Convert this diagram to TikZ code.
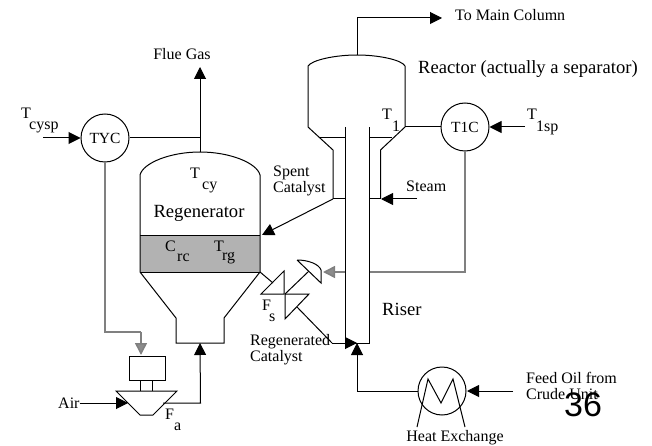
\documentclass[tikz,border=0pt]{standalone}
\usepackage{fontspec}
\setmainfont{Liberation Serif}
\newfontfamily\pagefont{Liberation Sans}
\usetikzlibrary{arrows.meta}
\tikzset{
  pipeline/.style={line width=1pt},
  flowline/.style={line width=1pt,-{Triangle[length=12pt,width=12pt]}},
  signalline/.style={line width=1.5pt,black!50},
  signalarrow/.style={signalline,-{Triangle[length=12pt,width=12pt,fill=black!45]}},
  controller/.style={draw,circle,line width=1pt,minimum size=48pt,inner sep=0pt,fill=white,font=\fontsize{15.5}{16}\selectfont},
  label/.style={inner sep=0pt,font=\fontsize{16}{16}\selectfont},
  biglabel/.style={inner sep=0pt,font=\fontsize{18.6}{18}\selectfont}
}
\begin{document}
\begin{tikzpicture}[x=1pt,y=-1pt]
\useasboundingbox (0,0) rectangle (652,446);

%coordinates
\coordinate (regentop) at (200,152);
\coordinate (regenbot) at (200,343);
\coordinate (reacttop) at (357,55);
\coordinate (reactout) at (405,127);
\coordinate (flueend) at (200,67);
\coordinate (colend) at (442,18);
\coordinate (colbend) at (357,18);
\coordinate (spentend) at (262,235);
\coordinate (spentstart) at (333,199);
\coordinate (steamend) at (381,199);
\coordinate (steamstart) at (417,199);
\coordinate (cyspstart) at (43,138);
\coordinate (onespstart) at (525,127);
\coordinate (fanin) at (128,403);
\coordinate (fanout) at (163,403);
\coordinate (fanbend) at (200.5,403);
\coordinate (valvein) at (273,283);
\coordinate (valvecross) at (285,294);
\coordinate (valveout) at (297,307);
\coordinate (regencorner) at (260,272);
\coordinate (riserkink) at (332,343);
\coordinate (riserin) at (357,343);
\coordinate (feedbend) at (357,391);
\coordinate (feedstart) at (513,391);
\coordinate (feedend) at (467,391);
\coordinate (motortip) at (141,355);
\coordinate (valvetip) at (323,272);

%controllers
\node[controller] (tyc) at (105,138) {TYC};
\node[controller] (tonec) at (465,127) {T1C};
\node[draw,circle,line width=1pt,minimum size=48pt,inner sep=0pt] (exchanger) at (442,391) {};

%signals
\draw[signalline] (tyc.south) -- (105,332) -- (141,332);
\draw[signalarrow] (141,332) -- (motortip);
\draw[signalline] (tonec.south) -- (465,272) -- (369,272);
\draw[signalarrow] (345,272) -- (valvetip);

%regenerator
\fill[black!30] (140,235) rectangle (260,272);
\draw[pipeline] (140,235) -- (260,235);
\draw[pipeline] (140,272) -- (260,272);
\draw[pipeline] (176,318) -- (140,272) -- (140,175) .. controls (143,163) and (170,152) .. (regentop)
  .. controls (230,152) and (257,163) .. (260,175) -- (regencorner) -- (224,318) -- (224,343) -- (176,343) -- cycle;

%reactor
\draw[pipeline] (333,199) -- (333,150) -- (308,127) -- (308,66) .. controls (312,60) and (335,55) .. (reacttop)
  .. controls (379,55) and (402,60) .. (405,66) -- (reactout) -- (380.5,150) -- (380.5,199);
\draw[pipeline] (320,138) -- (345,138);
\draw[pipeline] (369,138) -- (392,138);
\draw[pipeline] (333,199) -- (345,199);
\draw[pipeline] (369,199) -- (380.5,199);

%riser
\draw[pipeline] (345,127) -- (345,343) -- (369,343) -- (369,127);

%valve
\draw[pipeline] (261,294) -- (284,271) -- (284,294) -- cycle;
\draw[pipeline] (285,294) -- (309,294) -- (285,319) -- cycle;
\draw[pipeline] (valvecross) -- (309,271);
\draw[pipeline] (297,260) -- (321,283) -- (321,270) .. controls (319,264) and (308,260) .. (297,260);
\draw[pipeline] (regencorner) -- (valvein);
\draw[pipeline] (valveout) -- (riserkink);
\draw[flowline] (riserkink) -- (riserin);

%fan
\draw[pipeline] (116,391) -- (177,391) -- (153,415) -- (140,415) -- cycle;
\draw[pipeline] (129,356) rectangle (165,380);
\draw[pipeline] (140,380) -- (140,391);
\draw[pipeline] (152,380) -- (152,391);

%exchanger
\draw[pipeline] (417,427) -- (428,379) -- (441,403) -- (453,379) -- (465,427);

%flows
\draw[flowline] (regentop) -- (flueend);
\draw[pipeline] (tyc.east) -- (200,138);
\draw[flowline] (reacttop) -- (colbend) -- (colend);
\draw[pipeline] (reactout) -- (tonec.west);
\draw[flowline] (spentstart) -- (spentend);
\draw[flowline] (steamstart) -- (steamend);
\draw[flowline] (fanout) -- (fanbend) -- (regenbot);
\draw[flowline] (exchanger.west) -- (feedbend) -- (riserin);
\draw[flowline] (cyspstart) -- (tyc.west);
\draw[flowline] (onespstart) -- (tonec.east);
\draw[flowline] (feedstart) -- (feedend);

%labels
\node[label] (fluegas) at (182,54) {Flue Gas};
\node[label,anchor=west] (maincol) at (455,15) {To Main Column};
\node[biglabel,anchor=west] (reactor) at (418,69) {Reactor (actually a separator)};
\node[biglabel] (regen) at (199,213) {Regenerator};
\node[biglabel,anchor=west] (riser) at (382,309) {Riser};
\node[label,anchor=west] (tcyspa) at (21,113) {T};
\node[label,anchor=west] (tcyspb) at (29,127) {cysp};
\node[label,anchor=west] (tcya) at (190,173) {T};
\node[label,anchor=west] (tcyb) at (202,187) {cy};
\node[label,anchor=west] (crca) at (165,246) {C};
\node[label,anchor=west] (crcb) at (177,258) {rc};
\node[label,anchor=west] (trga) at (214,246) {T};
\node[label,anchor=west] (trgb) at (222,258) {rg};
\node[label,anchor=west] (tonea) at (382,114) {T};
\node[label,anchor=west] (toneb) at (392,126) {1};
\node[label,anchor=west] (tonespa) at (527,114) {T};
\node[label,anchor=west] (tonespb) at (536,128) {1sp};
\node[label,anchor=west] (spent) at (273,173) {Spent};
\node[label,anchor=west] (spentcat) at (273,189) {Catalyst};
\node[label,anchor=west] (steam) at (406,186) {Steam};
\node[label,anchor=west] (fsa) at (262,305) {F};
\node[label,anchor=west] (fsb) at (269,318) {s};
\node[label,anchor=west] (regend) at (250,342) {Regenerated};
\node[label,anchor=west] (regcat) at (250,358) {Catalyst};
\node[label,anchor=west] (air) at (58,403) {Air};
\node[label,anchor=west] (faa) at (165,414) {F};
\node[label,anchor=west] (fab) at (174,427) {a};
\node[label,anchor=west] (feed) at (526,378) {Feed Oil from};
\node[label,anchor=west] (crude) at (526,394) {Crude Unit};
\node[label] (hxlabel) at (455,438) {Heat Exchange};
\node[inner sep=0pt,font=\pagefont\fontsize{34}{34}\selectfont] (pagenum) at (583,405) {36};

\draw[flowline] (air.east) -- (fanin);
\end{tikzpicture}
\end{document}
